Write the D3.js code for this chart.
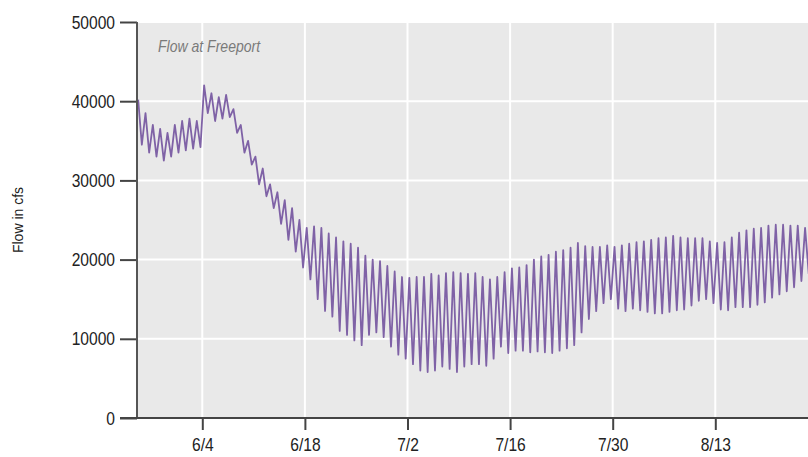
<!DOCTYPE html>
<html><head><meta charset="utf-8">
<script src="https://cdn.jsdelivr.net/npm/d3@7"></script>
<style>
html,body{margin:0;padding:0;background:#fff;}
svg{display:block;}
.narrow{font-family:"Liberation Sans Narrow","Arial Narrow","Liberation Sans",Arial,sans-serif;}
</style></head>
<body><svg id="c" width="808" height="457"></svg>
<script>
// ---- data ----
const startDate = "2014-05-26";
const endDate = "2014-08-26";
const tickDates = ["2014-06-04","2014-06-18","2014-07-02","2014-07-16","2014-07-30","2014-08-13"];
const yTicks = [0,10000,20000,30000,40000,50000];
// daily high / low flow (cfs), one entry per day from May 26
const dailyHigh = [40200,38500,37000,36500,36000,37000,37500,37800,37500,42000,
  41000,40500,40800,39000,37000,35000,33000,31500,29500,28500,
  27500,26500,25000,24000,24200,24000,23300,22800,22300,22000,
  21500,20500,20000,19800,19200,18500,17800,17700,17800,17800,
  18200,18000,18300,18400,18300,18200,18300,17800,17500,17800,
  18400,18900,19000,19300,20000,20400,20600,21000,21200,21500,
  22100,21700,21600,21600,21800,21600,21800,22000,22200,22300,
  22500,22700,22800,23000,22800,22700,22700,22700,22300,22100,
  22200,22800,23400,23700,23900,24000,24300,24400,24400,24300,
  24300,24000];
const dailyLow = [34500,33500,33000,32500,33000,33500,33800,34000,34200,38500,
  37500,37800,38000,36000,33500,32000,29500,28000,26500,24500,
  22500,21000,19000,17500,15000,13500,12800,11000,10500,9800,
  9200,10500,10800,10200,9000,8000,7500,6800,6000,5800,
  6000,6500,6200,5800,6500,6800,6800,6600,7500,9000,
  8200,8500,8500,8300,8400,8300,8200,8500,8800,9200,
  10800,12500,13500,14500,15000,13800,13500,13800,13600,13400,
  13200,13200,13400,13600,13700,14200,14800,15000,14500,13700,
  13600,14000,14000,14000,14300,14600,15200,15600,16000,16500,
  17300,18200];

const W = 808, H = 457;
const plot = {left:137, right:808, top:22, bottom:418};
const parse = d3.timeParse("%Y-%m-%d");
const t0 = parse(startDate), t1 = parse(endDate);

const x = d3.scaleTime().domain([t0,t1]).range([136.34, 810.57]);
const y = d3.scaleLinear().domain([0,50000]).range([plot.bottom, plot.top]);

const series = [];
dailyHigh.forEach((h,i)=>{
  series.push({t:d3.timeHour.offset(t0, i*24+6), v:h});
  series.push({t:d3.timeHour.offset(t0, i*24+18), v:dailyLow[i]});
});

function squeeze(sel, f){
  sel.each(function(){
    const w = this.getComputedTextLength();
    d3.select(this).attr("textLength", w*f).attr("lengthAdjust","spacingAndGlyphs");
  });
}

const svg = d3.select("#c");
svg.append("rect").attr("x",plot.left).attr("y",plot.top)
  .attr("width",plot.right-plot.left).attr("height",plot.bottom-plot.top)
  .attr("fill","#e9e9e9");

const g = svg.append("g");
g.selectAll(".hg").data(yTicks.filter(d=>d>0)).enter().append("line")
  .attr("x1",plot.left).attr("x2",plot.right)
  .attr("y1",d=>y(d)).attr("y2",d=>y(d))
  .attr("stroke","#fff").attr("stroke-width",2);
g.selectAll(".vg").data(tickDates.map(parse)).enter().append("line")
  .attr("x1",d=>x(d)).attr("x2",d=>x(d))
  .attr("y1",plot.top).attr("y2",plot.bottom)
  .attr("stroke","#fff").attr("stroke-width",2);

svg.append("clipPath").attr("id","clip").append("rect")
  .attr("x",plot.left+1).attr("y",plot.top).attr("width",plot.right-plot.left).attr("height",plot.bottom-plot.top);

const line = d3.line().x(d=>x(d.t)).y(d=>y(d.v)).curve(d3.curveLinear);
svg.append("path").datum(series).attr("clip-path","url(#clip)")
  .attr("d",line).attr("fill","none").attr("stroke","#7f62a6")
  .attr("stroke-width",1.8).attr("stroke-linejoin","round");

// y axis
const ya = svg.append("g").attr("transform",`translate(${plot.left},0)`)
  .call(d3.axisLeft(y).tickValues(yTicks).tickFormat(d3.format("d")).tickSize(17).tickSizeOuter(0).tickPadding(5));
ya.select(".domain").remove();
ya.selectAll(".tick line").attr("stroke","#444").attr("stroke-width",2);
ya.selectAll("text").attr("class","narrow").attr("font-size",19).attr("fill","#222").call(squeeze,0.82);
svg.append("line").attr("x1",plot.left).attr("x2",plot.left).attr("y1",plot.top).attr("y2",plot.bottom+1)
  .attr("stroke","#555").attr("stroke-width",2);

// x axis
const xa = svg.append("g").attr("transform",`translate(0,${plot.bottom})`)
  .call(d3.axisBottom(x).tickValues(tickDates.map(parse)).tickFormat(d3.timeFormat("%-m/%-d")).tickSize(12).tickSizeOuter(0).tickPadding(8));
xa.select(".domain").remove();
xa.selectAll(".tick line").attr("stroke","#444").attr("stroke-width",2);
xa.selectAll("text").attr("class","narrow").attr("font-size",19).attr("fill","#222").call(squeeze,0.82);
svg.append("line").attr("x1",120).attr("x2",plot.right).attr("y1",plot.bottom).attr("y2",plot.bottom)
  .attr("stroke","#444").attr("stroke-width",2);

// titles
svg.append("text").attr("transform","translate(23,220) rotate(-90)")
  .attr("text-anchor","middle").attr("font-family","Liberation Sans, Arial, sans-serif")
  .attr("font-size",14).attr("fill","#222").text("Flow in cfs");
svg.append("text").attr("class","narrow").attr("x",158).attr("y",52)
  .attr("font-size",16.5).attr("font-style","italic").attr("fill","#7a7a7a").text("Flow at Freeport")
  .call(squeeze,0.85);
</script></body></html>
